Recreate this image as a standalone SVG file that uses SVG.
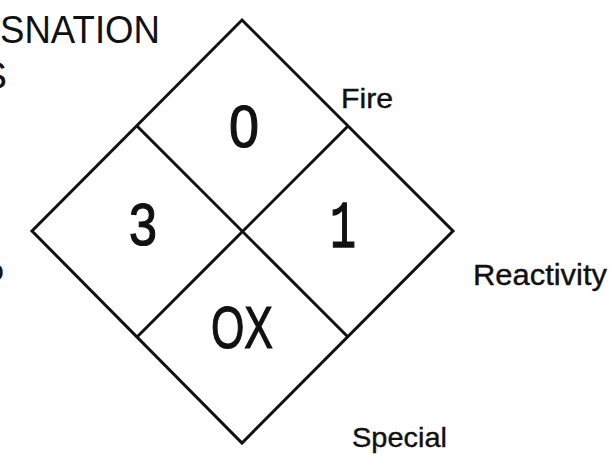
<svg xmlns="http://www.w3.org/2000/svg" width="613" height="455" viewBox="0 0 613 455">
<style>
.ln{fill:none;stroke:#111;stroke-width:3;stroke-linejoin:miter}
.num{font-family:"Liberation Sans",Arial,sans-serif;font-size:60px;fill:#111;stroke:#111;stroke-width:1.2;text-anchor:middle}
.mono{font-family:"Liberation Mono","Courier New",monospace;font-size:66px;fill:#111;stroke:#111;stroke-width:1.5;text-anchor:middle}
.lbl{font-family:"Liberation Sans",Arial,sans-serif;fill:#111;stroke:#111;stroke-width:0.4}
.hdr{font-family:"Liberation Sans",Arial,sans-serif;font-size:39px;fill:#111}
</style>
<rect width="613" height="455" fill="#fff"/>
<g id="header">
<text class="hdr" x="0" y="43" textLength="160" lengthAdjust="spacingAndGlyphs">SNATION</text>
<text class="hdr" x="-19" y="89">S</text>
<text class="lbl" x="-12" y="280" font-size="28">o</text>
</g>
<g id="diamond">
<polygon class="ln" points="242,20 453,231 242,443 32,231"/>
<line class="ln" x1="137" y1="126" x2="348" y2="337"/>
<line class="ln" x1="348" y1="126" x2="137" y2="337"/>
</g>
<g id="fire"><text class="num" x="244" y="147" textLength="30" lengthAdjust="spacingAndGlyphs">0</text></g>
<g id="health"><text class="num" x="143" y="245" textLength="28" lengthAdjust="spacingAndGlyphs">3</text></g>
<g id="reactivity"><text class="mono" x="343" y="247" textLength="26" lengthAdjust="spacingAndGlyphs">1</text></g>
<g id="special"><text class="num" x="242" y="348" textLength="62" lengthAdjust="spacingAndGlyphs">OX</text></g>
<g id="labels">
<text class="lbl" x="341" y="108" font-size="27" textLength="52" lengthAdjust="spacingAndGlyphs">Fire</text>
<text class="lbl" x="473" y="285" font-size="30" textLength="134" lengthAdjust="spacingAndGlyphs">Reactivity</text>
<text class="lbl" x="352" y="447" font-size="28" textLength="95" lengthAdjust="spacingAndGlyphs">Special</text>
</g>
</svg>
